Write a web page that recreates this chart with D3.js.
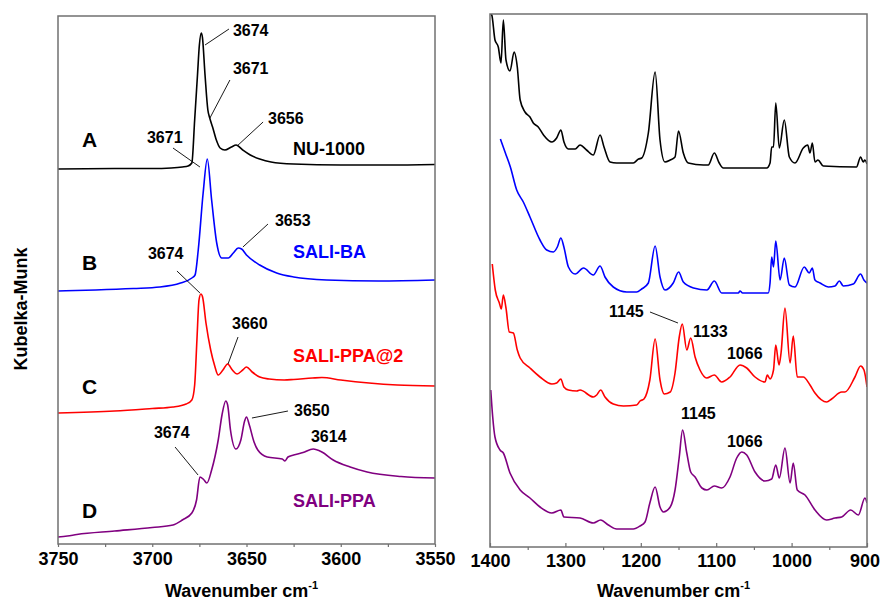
<!DOCTYPE html>
<html>
<head>
<meta charset="utf-8">
<script src="https://cdn.jsdelivr.net/npm/d3@7"></script>
<style>
  body { margin: 0; background: #fff; }
  svg text { font-family: "Liberation Sans", Arial, sans-serif; font-weight: bold; }
</style>
</head>
<body>
<svg id="chart" width="881" height="604"></svg>
<script>
// ---- O-H stretching region (left panel), [wavenumber, stacked K-M] ----
var ohNU = [[3750,3.75],[3720,3.755],[3700,3.755],[3690,3.76],[3684,3.77],[3681,3.78],[3679,3.81],
  [3677.5,4.24],[3676,4.69],[3675,4.99],[3674,5.11],[3673.4,5.07],[3672,4.69],[3670.5,4.34],[3669.5,4.26],
  [3668,4.17],[3666,4.04],[3664,3.96],[3661.5,3.94],[3658,3.97],[3655.5,3.99],[3652,3.94],[3648,3.89],
  [3643,3.85],[3637,3.82],[3625,3.80],[3600,3.79],[3575,3.79],[3550,3.795]];
var ohBA = [[3750,2.53],[3730,2.54],[3710,2.555],[3696,2.57],[3685,2.61],[3679,2.66],[3677.3,2.69],
  [3675.6,2.94],[3673,3.51],[3670.8,3.85],[3668.5,3.44],[3665.8,3.01],[3663.2,2.86],[3659.7,2.86],
  [3657,2.91],[3654.4,2.96],[3652.6,2.95],[3650,2.89],[3643,2.79],[3634,2.71],[3625,2.67],[3607.5,2.64],
  [3580,2.63],[3550,2.64]];
var ohPPA2 = [[3750,1.31],[3720,1.33],[3700,1.355],[3689,1.37],[3682,1.40],[3679,1.44],[3677.5,1.59],
  [3676.3,2.04],[3675.2,2.44],[3674.2,2.50],[3673.3,2.47],[3671.5,2.21],[3669,1.94],[3667,1.79],[3665,1.69],
  [3662.5,1.74],[3660,1.80],[3657.5,1.74],[3655,1.70],[3652,1.74],[3650,1.77],[3647,1.72],[3643,1.67],
  [3638,1.65],[3630,1.64],[3625,1.645],[3615,1.66],[3610,1.665],[3600,1.64],[3585,1.61],[3570,1.59],[3550,1.58]];
var ohPPA = [[3750,0.07],[3745,0.08],[3740,0.095],[3720,0.13],[3700,0.165],[3689,0.19],[3684,0.24],
  [3679,0.31],[3676.5,0.44],[3674.7,0.67],[3673,0.65],[3671,0.61],[3668.5,0.74],[3665,1.04],[3663,1.29],
  [3661,1.43],[3660,1.39],[3658.5,1.14],[3655.6,0.95],[3653,1.04],[3651,1.23],[3650,1.27],[3648.5,1.19],
  [3646,1.02],[3644,0.94],[3639,0.87],[3631,0.85],[3629.6,0.83],[3628,0.87],[3625,0.89],[3620,0.915],
  [3614.6,0.95],[3610,0.92],[3604,0.84],[3595,0.77],[3586,0.72],[3568,0.675],[3550,0.66]];

// ---- fingerprint region (right panel) ----
var fpNU = [[1400,5.335],[1397.7,5.32],[1393.4,5.07],[1389,5.00],[1385.4,4.84],[1382.3,5.27],[1378.8,4.87],
  [1373.5,4.76],[1368,4.95],[1363.8,4.80],[1360,4.47],[1353.6,4.35],[1347,4.30],[1342.6,4.24],[1336,4.20],
  [1329,4.12],[1318,4.05],[1311.6,4.09],[1306,4.17],[1301.9,4.05],[1296,3.98],[1287,3.98],[1280.6,4.02],
  [1272,3.97],[1263,3.92],[1254,4.12],[1248.8,4.00],[1240.8,3.85],[1232,3.84],[1210,3.84],[1203,3.88],
  [1198.8,3.89],[1190,4.14],[1181,4.75],[1174.5,4.07],[1168,3.85],[1161,3.87],[1154.6,3.90],[1150,4.16],
  [1143.6,3.94],[1137,3.84],[1117,3.82],[1110.5,3.82],[1102.5,3.94],[1096,3.84],[1090.6,3.79],[1068,3.79],
  [1033,3.79],[1028.6,3.84],[1026.4,4.00],[1024,4.00],[1021,4.44],[1016.3,3.99],[1009.7,4.27],[1003,3.90],
  [995.5,3.84],[984.5,3.99],[978.6,4.02],[975.6,3.94],[972.5,4.04],[969,3.85],[965,3.87],[958,3.81],
  [914,3.80],[908.5,3.90],[905,3.85],[902.8,3.87],[900,3.83]];
var fpBA = [[1386.2,4.08],[1379.6,3.94],[1373,3.80],[1364.6,3.57],[1355.8,3.45],[1347,3.30],[1333.7,3.07],
  [1324.8,2.97],[1316,2.95],[1310.7,3.00],[1306,3.09],[1302,3.00],[1296,2.80],[1287,2.73],[1276,2.79],
  [1263,2.72],[1254,2.81],[1247.5,2.70],[1236.5,2.60],[1218.7,2.55],[1205.5,2.55],[1198.8,2.58],[1190,2.64],
  [1181,3.01],[1174.5,2.70],[1168,2.57],[1157,2.64],[1149.8,2.75],[1143.6,2.65],[1130,2.59],[1112.3,2.57],
  [1102.5,2.66],[1092.7,2.54],[1070.7,2.54],[1068.4,2.56],[1065,2.54],[1031,2.54],[1028.6,2.64],[1026.4,2.90],
  [1024,2.80],[1021,3.06],[1015.3,2.67],[1009.7,2.89],[1003,2.62],[995.5,2.60],[983.2,2.80],[976.6,2.74],
  [972.5,2.79],[969,2.67],[962.3,2.64],[951.3,2.60],[942.4,2.61],[936.7,2.66],[931.4,2.61],[918.2,2.63],
  [908.5,2.73],[904.1,2.67],[900,2.64]];
var fpPPA2 = [[1397,2.83],[1393,2.57],[1387.6,2.44],[1385,2.38],[1382.3,2.52],[1378.8,2.39],[1374.4,2.15],
  [1369,2.14],[1363.8,1.97],[1360,1.89],[1347,1.79],[1333.7,1.70],[1318,1.63],[1311.6,1.64],[1306,1.68],
  [1302,1.60],[1296,1.57],[1285,1.56],[1280.6,1.57],[1263,1.50],[1258.5,1.52],[1253.2,1.57],[1247.5,1.50],
  [1236.5,1.43],[1223,1.41],[1205.5,1.42],[1201,1.46],[1195.8,1.48],[1188,1.67],[1181,2.08],[1174.5,1.67],
  [1169,1.53],[1161,1.55],[1154.6,1.74],[1149,2.10],[1145,2.23],[1139,1.97],[1133.8,2.09],[1128,1.90],
  [1121.5,1.77],[1112.7,1.69],[1102.5,1.72],[1092.7,1.65],[1081.7,1.70],[1068.4,1.82],[1059.5,1.79],
  [1048.5,1.70],[1035.3,1.65],[1032.2,1.72],[1028.6,1.68],[1024,1.77],[1021,2.02],[1016.7,1.82],[1014,1.94],
  [1008.8,2.39],[1002,1.84],[997.8,2.11],[992.5,1.70],[984.5,1.70],[975.6,1.62],[969,1.54],[953.5,1.45],
  [946.9,1.48],[933.6,1.55],[929.2,1.55],[916,1.70],[908.5,1.81],[904,1.77],[900,1.60]];
var fpPPA = [[1399,1.57],[1396.4,1.30],[1393.4,1.10],[1386.7,0.97],[1382.3,0.94],[1373.5,0.74],[1360,0.57],
  [1347,0.49],[1333.7,0.40],[1318,0.34],[1306,0.37],[1302,0.30],[1280.6,0.29],[1263,0.24],[1253.2,0.27],
  [1243,0.22],[1232,0.18],[1210,0.18],[1201,0.21],[1194.4,0.25],[1188,0.44],[1181,0.60],[1174.5,0.40],
  [1170,0.35],[1161,0.40],[1154.6,0.57],[1149,0.90],[1144.6,1.17],[1139,0.94],[1133.8,0.75],[1128,0.70],
  [1119,0.59],[1112.3,0.57],[1102.5,0.61],[1092.7,0.59],[1081.7,0.70],[1072.8,0.89],[1066,0.95],[1059.5,0.92],
  [1048.5,0.75],[1035.3,0.66],[1026.4,0.68],[1021,0.82],[1016.3,0.69],[1008.8,0.99],[1002,0.64],[997.8,0.84],
  [992.5,0.57],[982.2,0.52],[969,0.37],[953.5,0.27],[942.4,0.29],[933.6,0.30],[921.6,0.37],[911.5,0.32],
  [902.7,0.49],[900,0.44]];

var sampleNames = ['NU-1000', 'SALI-BA', 'SALI-PPA@2', 'SALI-PPA'];
var sampleLetters = ['A', 'B', 'C', 'D'];
var sampleColors = ['#000000', '#0000ff', '#ff0000', '#800080'];

var leftTicks = [3750, 3700, 3650, 3600, 3550];
var rightTicks = [1400, 1300, 1200, 1100, 1000, 900];

// name label and letter positions (wavenumber, K-M)
var namePos = [[3625.3,3.89],[3625.3,2.86],[3625.3,1.82],[3625.3,0.37]];
var letterPos = [[3737.3,3.97],[3737.3,2.74],[3737.3,1.50],[3737.3,0.26]];

// peak annotations: text, text position, leader line (from, to) or null
var ohNotes = [
  ['3674', [3657.2,5.08], [[3672.0,4.99],[3659.3,5.15]]],
  ['3671', [3657.2,4.70], [[3669.4,4.26],[3658.8,4.64]]],
  ['3656', [3638.6,4.20], [[3655.0,3.98],[3641.2,4.22]]],
  ['3671', [3702.8,4.01], [[3689.0,3.96],[3674.7,3.77]]],
  ['3653', [3634.9,3.18], [[3651.9,2.97],[3638.6,3.20]]],
  ['3674', [3702.3,2.85], [[3686.9,2.73],[3674.7,2.51]]],
  ['3660', [3657.7,2.15], [[3654.5,2.07],[3659.8,1.80]]],
  ['3650', [3624.8,1.28], [[3647.1,1.26],[3628.0,1.33]]],
  ['3614', [3615.8,1.02], null],
  ['3674', [3699.1,1.06], [[3687.9,0.97],[3675.7,0.69]]]
];
var fpNotes = [
  ['1145', [1242.2,2.30], [[1187.8,2.35],[1150.7,2.24]]],
  ['1133', [1130.8,2.10], null],
  ['1066', [1085.7,1.88], null],
  ['1145', [1146.7,1.28], null],
  ['1066', [1085.7,1.00], null]
];

var svg = d3.select('#chart');

function drawPanel(cfg) {
  var x = d3.scaleLinear().domain(cfg.xDomain).range([cfg.left, cfg.right]);
  var y = d3.scaleLinear().domain(cfg.yDomain).range([cfg.bottom, cfg.top]);
  var g = svg.append('g');

  g.append('clipPath').attr('id', cfg.id + '-clip')
    .append('rect')
    .attr('x', cfg.left).attr('y', cfg.top)
    .attr('width', cfg.right - cfg.left).attr('height', cfg.bottom - cfg.top);

  var line = d3.line()
    .x(function(d) { return x(d[0]); })
    .y(function(d) { return y(d[1]); })
    .curve(d3.curveMonotoneX);

  g.append('g').attr('clip-path', 'url(#' + cfg.id + '-clip)')
    .selectAll('path')
    .data(cfg.series)
    .enter()
    .append('path')
    .attr('d', line)
    .attr('fill', 'none')
    .attr('stroke', function(d, i) { return sampleColors[i]; })
    .attr('stroke-width', 1.6)
    .attr('stroke-linejoin', 'round');

  // minor ticks
  var minorAxis = d3.axisBottom(x)
    .tickValues(cfg.minor)
    .tickSize(cfg.minorSize)
    .tickSizeOuter(0)
    .tickFormat('');
  var gm = g.append('g').attr('transform', 'translate(0,' + cfg.bottom + ')').call(minorAxis);
  gm.select('.domain').remove();
  gm.selectAll('line').attr('stroke', '#707070').attr('stroke-width', 1.2);

  // major ticks + labels
  var xAxis = d3.axisBottom(x)
    .tickValues(cfg.ticks)
    .tickSize(cfg.majorSize)
    .tickSizeOuter(0)
    .tickPadding(cfg.pad)
    .tickFormat(d3.format('d'));
  var ga = g.append('g').attr('transform', 'translate(0,' + cfg.bottom + ')').call(xAxis);
  ga.select('.domain').remove();
  ga.selectAll('line').attr('stroke', '#707070').attr('stroke-width', 1.2);
  ga.selectAll('text')
    .attr('fill', '#000')
    .attr('dx', function(d, i) { return i === cfg.ticks.length - 1 ? cfg.lastShift : 0; })
    .style('font-size', '18px')
    .style('font-family', '"Liberation Sans", Arial, sans-serif')
    .style('font-weight', 'bold');

  // frame
  g.append('rect')
    .attr('x', cfg.left).attr('y', cfg.top)
    .attr('width', cfg.right - cfg.left).attr('height', cfg.bottom - cfg.top)
    .attr('fill', 'none')
    .attr('stroke', '#707070')
    .attr('stroke-width', 1.5);

  // x title
  var title = g.append('text')
    .attr('x', (cfg.left + cfg.right) / 2 - 5)
    .attr('y', 597)
    .attr('text-anchor', 'middle')
    .style('font-size', '18px');
  title.append('tspan').text('Wavenumber cm');
  title.append('tspan').attr('dy', -8).style('font-size', '11px').text('-1');

  // annotations
  cfg.notes.forEach(function(n) {
    g.append('text')
      .attr('x', x(n[1][0])).attr('y', y(n[1][1]))
      .style('font-size', '16px')
      .attr('fill', '#000')
      .text(n[0]);
    if (n[2]) {
      g.append('line')
        .attr('x1', x(n[2][0][0])).attr('y1', y(n[2][0][1]))
        .attr('x2', x(n[2][1][0])).attr('y2', y(n[2][1][1]))
        .attr('stroke', '#000').attr('stroke-width', 0.9);
    }
  });

  return { x: x, y: y, g: g };
}

var leftPanel = drawPanel({
  id: 'oh', left: 58, right: 435, top: 16, bottom: 544,
  xDomain: [3750, 3550], yDomain: [0, 5.28],
  ticks: leftTicks, minor: [3725, 3675, 3625, 3575],
  majorSize: 3, minorSize: 3, pad: 5, lastShift: 0,
  series: [ohNU, ohBA, ohPPA2, ohPPA], notes: ohNotes
});

var rightPanel = drawPanel({
  id: 'fp', left: 490, right: 867, top: 14, bottom: 547,
  xDomain: [1400, 900], yDomain: [0, 5.33],
  ticks: rightTicks, minor: [1350, 1250, 1150, 1050, 950],
  majorSize: -4, minorSize: 3, pad: 7, lastShift: -2.5,
  series: [fpNU, fpBA, fpPPA2, fpPPA], notes: fpNotes
});

// sample names and letters in the left panel
sampleNames.forEach(function(name, i) {
  leftPanel.g.append('text')
    .attr('x', leftPanel.x(namePos[i][0])).attr('y', leftPanel.y(namePos[i][1]))
    .attr('fill', sampleColors[i])
    .style('font-size', '18px')
    .text(name);
  leftPanel.g.append('text')
    .attr('x', leftPanel.x(letterPos[i][0])).attr('y', leftPanel.y(letterPos[i][1]))
    .attr('fill', '#000')
    .style('font-size', '21px')
    .text(sampleLetters[i]);
});

// y title
svg.append('text')
  .attr('transform', 'translate(27,309) rotate(-90)')
  .attr('text-anchor', 'middle')
  .style('font-size', '18px')
  .text('Kubelka-Munk');
</script>
</body>
</html>
